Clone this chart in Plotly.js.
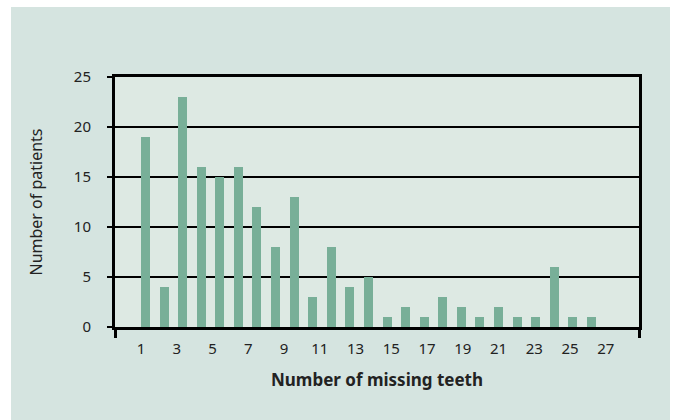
<!DOCTYPE html>
<html>
<head>
<meta charset="utf-8">
<script src="https://cdn.plot.ly/plotly-3.0.1.min.js"></script>
<style>
  html, body { margin: 0; padding: 0; background: #ffffff; width: 673px; height: 420px; overflow: hidden; }
  #chart { position: absolute; left: 11px; top: 7px; width: 659px; height: 413px; }
</style>
</head>
<body>
<div id="chart"></div>
<script>
// Data
const missingTeeth = [1,2,3,4,5,6,7,8,9,10,11,12,13,14,15,16,17,18,19,20,21,22,23,24,25];
const patients     = [19,4,23,16,15,16,12,8,13,3,8,4,5,1,2,1,3,2,1,2,1,1,6,1,1];
const xTickLabels  = [1,3,5,7,9,11,13,15,17,19,21,23,25,27];
const yTickValues  = [0,5,10,15,20,25];

const barRange   = [-0.64, 27.56];
const labelRange = [-0.455, 28.86];

const FONT = '"Noto Sans", "Open Sans", sans-serif';
const TXT = '#222222';

const trace = {
  type: 'bar',
  x: missingTeeth,
  y: patients,
  width: 0.485,
  marker: { color: '#78af98', line: { width: 0 } },
  hoverinfo: 'x+y'
};

// invisible helper trace so the label axis is drawn
const labelTrace = {
  type: 'scatter',
  x: xTickLabels,
  y: xTickLabels.map(() => null),
  xaxis: 'x2',
  yaxis: 'y',
  mode: 'markers',
  showlegend: false,
  hoverinfo: 'skip'
};

const layout = {
  width: 659,
  height: 413,
  paper_bgcolor: '#d5e4e0',
  plot_bgcolor: '#dde9e3',
  margin: { l: 104, r: 31, t: 70, b: 93, pad: 0 },
  showlegend: false,
  bargap: 0,
  font: { family: FONT, size: 15, color: TXT },
  xaxis: {
    range: barRange,
    showgrid: false,
    zeroline: false,
    showline: true,
    linecolor: '#000000',
    linewidth: 3,
    mirror: true,
    tickmode: 'array',
    tickvals: barRange,
    ticks: 'outside',
    ticklen: 8,
    tickwidth: 3,
    tickcolor: '#000000',
    showticklabels: false,
    fixedrange: true
  },
  xaxis2: {
    overlaying: 'x',
    anchor: 'y',
    side: 'bottom',
    range: labelRange,
    tickmode: 'array',
    tickvals: xTickLabels,
    ticktext: xTickLabels.map(String),
    ticks: '',
    showgrid: false,
    zeroline: false,
    showline: false,
    ticklabelstandoff: 11,
    tickfont: { family: FONT, size: 15, color: TXT },
    title: {
      text: 'Number of missing teeth',
      font: { family: FONT, size: 17, color: TXT, weight: 'bold' },
      standoff: 17
    },
    fixedrange: true
  },
  yaxis: {
    range: [0, 25],
    tickmode: 'array',
    tickvals: yTickValues,
    ticks: 'outside',
    ticklen: 5,
    tickwidth: 2,
    tickcolor: '#000000',
    showgrid: true,
    gridcolor: '#000000',
    gridwidth: 2,
    zeroline: false,
    showline: true,
    linecolor: '#000000',
    linewidth: 3,
    mirror: true,
    ticklabelstandoff: 13,
    tickfont: { family: FONT, size: 15, color: TXT },
    title: {
      text: 'Number of patients',
      font: { family: FONT, size: 16, color: TXT },
      standoff: 28
    },
    fixedrange: true
  }
};

Plotly.newPlot('chart', [trace, labelTrace], layout, { displayModeBar: false, staticPlot: true });
</script>
</body>
</html>
